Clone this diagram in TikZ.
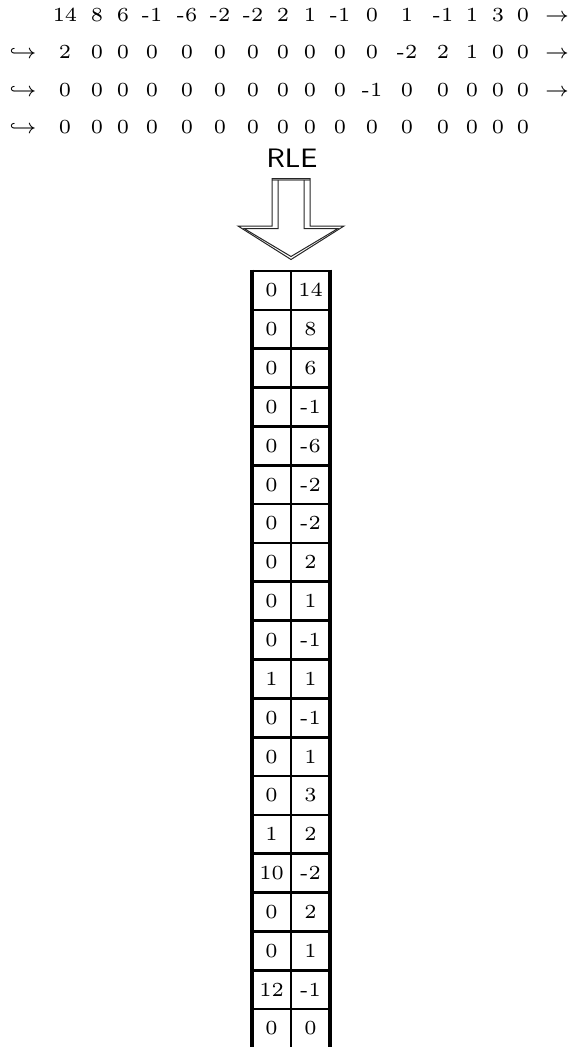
\documentclass[tikz,border=0pt]{standalone}
\tikzset{
  num/.style={anchor=base, inner sep=0pt, font=\fontsize{6}{7}\selectfont},
  rlelabel/.style={font=\sffamily\fontsize{8}{9}\selectfont, inner sep=0pt},
  hrule/.style={line width=0.8pt},
  vthick/.style={line width=1pt},
  vthin/.style={line width=0.5pt},
  arrline/.style={line width=0.3pt, draw=black!85, line join=miter},
}
\begin{document}
\begin{tikzpicture}[x=0.3pt,y=-0.3pt]
\useasboundingbox (0,0) rectangle (580,1047);
% ---- coefficient rows ----
\foreach \x/\v [count=\i] in {65/14,97/8,123/6,152/-1,187/-6,220/-2,253/-2,283/2,310/1,340/-1,372/0,407/1,443/-1,472/1,498/3,523/0}
  \node[num,name=a\i] at (\x,22) {\v};
\foreach \x/\v [count=\i] in {65/2,97/0,123/0,152/0,187/0,220/0,253/0,283/0,310/0,340/0,372/0,407/-2,443/2,472/1,498/0,523/0}
  \node[num,name=b\i] at (\x,59) {\v};
\foreach \x/\v [count=\i] in {65/0,97/0,123/0,152/0,187/0,220/0,253/0,283/0,310/0,340/0,372/-1,407/0,443/0,472/0,498/0,523/0}
  \node[num,name=c\i] at (\x,96) {\v};
\foreach \x/\v [count=\i] in {65/0,97/0,123/0,152/0,187/0,220/0,253/0,283/0,310/0,340/0,372/0,407/0,443/0,472/0,498/0,523/0}
  \node[num,name=d\i] at (\x,133) {\v};
\node[num,name=ra] at (557,22) {$\rightarrow$};
\node[num,name=rb] at (557,59) {$\rightarrow$};
\node[num,name=rc] at (557,96) {$\rightarrow$};
\node[num,name=hb] at (23,59) {$\hookrightarrow$};
\node[num,name=hc] at (23,96) {$\hookrightarrow$};
\node[num,name=hd] at (23,133) {$\hookrightarrow$};
% ---- RLE label and hollow arrow ----
\node[rlelabel,name=rle] at (292,158) {RLE};
\draw[line width=0.75pt, draw=black!45] (272,180) -- (310,180);
\draw[arrline] (272,178.5) -- (272,226) -- (238,226) -- (291,259.5) -- (344,226) -- (310,226) -- (310,178.5) -- cycle;
\draw[arrline] (278,180) -- (278,228.5) -- (244,228.5) -- (291,256.5) -- (338,228.5) -- (304,228.5) -- (304,180);
% ---- table ----
\foreach \l/\r [count=\i] in {0/14,0/8,0/6,0/-1,0/-6,0/-2,0/-2,0/2,0/1,0/-1,1/1,0/-1,0/1,0/3,1/2,10/-2,0/2,0/1,12/-1,0/0} {
  \node[num,name=L\i] at (271.5,{271+(\i-0.5)*38.85+6.4}) {\l};
  \node[num,name=R\i] at (310.5,{271+(\i-0.5)*38.85+6.4}) {\r};
}
\foreach \i in {0,...,19}
  \draw[hrule] (252,{271+\i*38.85}) -- (330,{271+\i*38.85});
\draw[vthick] (252,269.7) -- (252,1047);
\draw[vthick] (330,269.7) -- (330,1047);
\draw[vthin] (291,271) -- (291,1047);
\end{tikzpicture}
\end{document}
